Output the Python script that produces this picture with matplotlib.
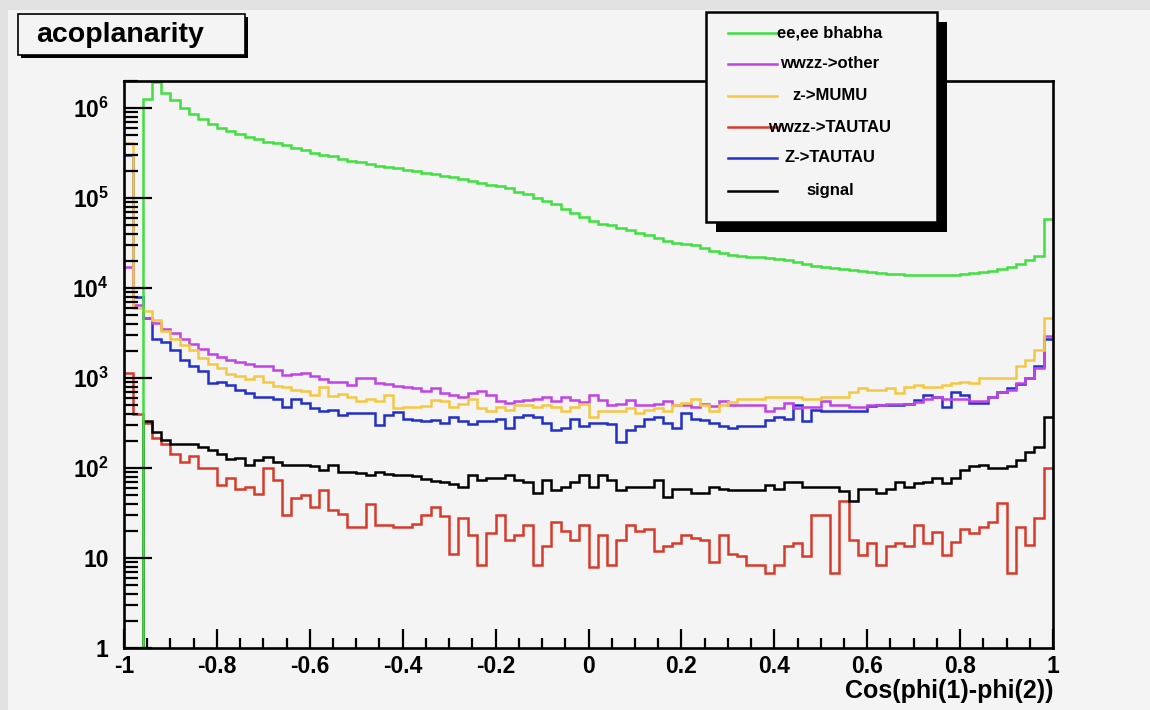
import numpy as np
import matplotlib
matplotlib.use('Agg')
import matplotlib.pyplot as plt
from matplotlib.patches import Rectangle
from matplotlib.lines import Line2D
from matplotlib.ticker import MultipleLocator, LogLocator, NullFormatter

plt.rcParams['font.family'] = ['Liberation Sans', 'DejaVu Sans']
plt.rcParams['font.weight'] = 'bold'
plt.rcParams['mathtext.fontset'] = 'custom'
plt.rcParams['mathtext.bf'] = 'Liberation Sans:bold'
plt.rcParams['mathtext.rm'] = 'Liberation Sans:bold'
plt.rcParams['mathtext.default'] = 'bf'

# 100 bins between -1 and 1
bin_edges = np.linspace(-1, 1, 101)

bhabha = [0, 0, 1.26e6, 1.95e6, 1.48e6, 1.23e6, 1.0e6, 8.7e5, 7.6e5, 6.6e5,
          6.0e5, 5.6e5, 5.1e5, 4.8e5, 4.5e5, 4.2e5, 4.1e5, 3.9e5, 3.6e5, 3.4e5,
          3.2e5, 3.0e5, 2.9e5, 2.75e5, 2.6e5, 2.5e5, 2.4e5, 2.3e5, 2.2e5, 2.15e5,
          2.05e5, 2.0e5, 1.9e5, 1.86e5, 1.78e5, 1.7e5, 1.62e5, 1.55e5, 1.48e5, 1.41e5,
          1.35e5, 1.29e5, 1.17e5, 1.1e5, 1.0e5, 9.3e4, 8.5e4, 7.6e4, 6.8e4, 6.2e4,
          5.6e4, 5.2e4, 5.0e4, 4.7e4, 4.4e4, 4.1e4, 3.9e4, 3.6e4, 3.3e4, 3.2e4,
          3.1e4, 3.0e4, 2.8e4, 2.6e4, 2.45e4, 2.35e4, 2.3e4, 2.24e4, 2.2e4, 2.14e4,
          2.1e4, 2.04e4, 1.95e4, 1.86e4, 1.78e4, 1.7e4, 1.66e4, 1.62e4, 1.58e4, 1.55e4,
          1.51e4, 1.48e4, 1.45e4, 1.45e4, 1.41e4, 1.38e4, 1.38e4, 1.38e4, 1.38e4, 1.41e4,
          1.45e4, 1.48e4, 1.51e4, 1.55e4, 1.62e4, 1.7e4, 1.86e4, 2.04e4, 2.3e4, 5.9e4]

wwzz_other = [1.7e4, 6500, 4600, 4100, 3500, 3200, 2700, 2400, 2100, 1860,
              1700, 1580, 1510, 1450, 1350, 1350, 1230, 1070, 1120, 1150,
              1050, 980, 910, 910, 830, 1000, 1000, 870, 850, 810,
              790, 775, 725, 770, 680, 650, 620, 680, 725, 650,
              560, 525, 560, 570, 580, 620, 550, 610, 570, 535,
              650, 570, 500, 515, 570, 500, 500, 515, 560, 500,
              500, 480, 515, 490, 550, 500, 500, 500, 500, 425,
              460, 525, 460, 480, 480, 550, 500, 500, 480, 480,
              500, 500, 515, 515, 515, 535, 590, 615, 590, 590,
              590, 550, 550, 615, 700, 740, 870, 1000, 1290, 2900]

z_mumu = [4.1e5, 6000, 5500, 4400, 3300, 2750, 2350, 2050, 1660, 1450,
          1290, 1120, 1050, 980, 1050, 910, 810, 790, 740, 710,
          650, 790, 630, 660, 615, 560, 590, 550, 650, 460,
          480, 480, 490, 575, 550, 480, 515, 590, 460, 425,
          480, 440, 500, 500, 480, 500, 480, 425, 480, 515,
          370, 425, 425, 425, 460, 405, 440, 460, 425, 500,
          525, 590, 500, 425, 500, 535, 590, 590, 590, 615,
          615, 615, 610, 590, 590, 615, 615, 615, 700, 770,
          740, 740, 770, 675, 800, 830, 800, 800, 830, 870,
          905, 870, 1000, 1000, 1000, 1000, 1350, 1580, 2050, 4600]

wwzz_tautau = [1150, 400, 316, 214, 186, 145, 118, 135, 100, 100,
               65, 77, 59, 61, 52, 100, 74, 30, 46, 50,
               37, 57, 34, 31, 22, 22, 40, 23, 23, 22,
               22, 24, 30, 37, 29, 11, 28, 18, 8.3, 19,
               30, 16, 18, 23, 8.3, 13.5, 25, 20, 16, 23,
               8, 18, 8.3, 16, 23, 20, 21, 12, 13.5, 14.5,
               18, 16.6, 16, 9.1, 18, 11.2, 10.5, 8.3, 8.3, 6.8,
               8.3, 13.5, 14.5, 10.5, 30, 30, 6.8, 43, 16, 10.8,
               14.5, 8.3, 13.5, 14.5, 13.5, 23, 14.5, 19.5, 10.8, 15,
               21, 19, 22, 25, 41, 6.8, 22, 14, 28, 100]

z_tautau = [3.0e5, 8000, 4600, 2750, 2500, 2050, 1580, 1350, 1200, 890,
            910, 830, 740, 675, 615, 615, 590, 480, 590, 525,
            460, 425, 440, 390, 410, 410, 410, 300, 390, 415,
            355, 340, 330, 340, 315, 370, 330, 305, 330, 330,
            350, 275, 370, 385, 365, 315, 265, 275, 350, 290,
            315, 315, 310, 195, 265, 290, 355, 370, 315, 275,
            410, 355, 340, 315, 290, 275, 290, 290, 290, 340,
            370, 355, 500, 330, 440, 425, 425, 425, 425, 425,
            490, 500, 500, 500, 515, 575, 650, 610, 480, 700,
            650, 525, 525, 610, 700, 770, 850, 1000, 1350, 2750]

signal = [0, 0, 330, 253, 204, 187, 187, 185, 173, 159,
          145, 125, 128, 108, 122, 134, 118, 108, 108, 108,
          105, 95, 108, 91, 91, 89, 84, 91, 86, 84,
          84, 81, 75, 72, 70, 67, 62, 83, 74, 77,
          77, 83, 74, 70, 53, 74, 57, 62, 70, 83,
          62, 83, 74, 57, 62, 62, 62, 74, 48, 58,
          58, 53, 53, 62, 59, 57, 57, 57, 57, 65,
          59, 70, 70, 62, 62, 62, 62, 55, 43, 59,
          59, 53, 59, 70, 62, 68, 70, 77, 68, 77,
          95, 104, 108, 99, 99, 104, 122, 150, 173, 370]

labels = ['ee,ee bhabha', 'wwzz->other', 'z->MUMU', 'wwzz->TAUTAU', 'Z->TAUTAU', 'signal']
colors = ['#3fe03f', '#c043e6', '#f5c842', '#d83a2a', '#2030c8', '#000000']

x_ticks = [-1, -0.8, -0.6, -0.4, -0.2, 0, 0.2, 0.4, 0.6, 0.8, 1]
x_tick_labels = ['-1', '-0.8', '-0.6', '-0.4', '-0.2', '0', '0.2', '0.4', '0.6', '0.8', '1']
y_ticks = [1, 10, 1e2, 1e3, 1e4, 1e5, 1e6]
y_tick_labels = ['1', '10', r'$10^{2}$', r'$10^{3}$', r'$10^{4}$', r'$10^{5}$', r'$10^{6}$']

W, H = 1150, 710
bg = '#f4f4f4'


def fx(px):
    return px / W


def fy(py):
    return 1 - py / H


fig = plt.figure(figsize=(11.5, 7.1), dpi=100, facecolor=bg)
fig.add_artist(Rectangle((0, 0), fx(8), 1, transform=fig.transFigure,
                         facecolor='#e2e2e2', edgecolor='none', zorder=0))
fig.add_artist(Rectangle((0, fy(10)), 1, 10 / H, transform=fig.transFigure,
                         facecolor='#e2e2e2', edgecolor='none', zorder=0))

ax = fig.add_axes([fx(124), fy(648), 929 / W, 567 / H])
ax.set_facecolor(bg)

all_series = [bhabha, wwzz_other, z_mumu, wwzz_tautau, z_tautau, signal]
# drawing order: blue first, bhabha last so it sits on top at the left edge
order = [4, 1, 2, 3, 5, 0]
for k in order:
    ax.stairs(all_series[k], bin_edges, baseline=None, edgecolor=colors[k], lw=1.8)

ax.set_yscale('log')
ax.set_xlim(-1, 1)
ax.set_ylim(1, 2.0e6)

ax.set_xticks(x_ticks)
ax.set_xticklabels(x_tick_labels)
ax.xaxis.set_minor_locator(MultipleLocator(0.05))
ax.set_yticks(y_ticks)
ax.set_yticklabels(y_tick_labels)
ax.yaxis.set_minor_locator(LogLocator(base=10, subs=range(2, 10), numticks=20))
ax.yaxis.set_minor_formatter(NullFormatter())

ax.tick_params(which='both', direction='in', top=False, right=False, width=1.6)
ax.tick_params(axis='x', which='major', length=14, pad=5, labelsize=16.5)
ax.tick_params(axis='x', which='minor', length=7)
ax.tick_params(axis='y', which='major', length=20, pad=11, labelsize=16.5)
ax.tick_params(axis='y', which='minor', length=10)
for s in ax.spines.values():
    s.set_linewidth(1.9)

ax.set_xlabel('Cos(phi(1)-phi(2))', loc='right', fontsize=18, fontweight='bold', labelpad=1)

# title box with shadow
fig.add_artist(Rectangle((fx(21), fy(58)), 227 / W, 41 / H, transform=fig.transFigure,
                         facecolor='black', edgecolor='none', zorder=2))
fig.add_artist(Rectangle((fx(18), fy(55)), 227 / W, 41 / H, transform=fig.transFigure,
                         facecolor=bg, edgecolor='black', lw=1.2, zorder=3))
fig.text(fx(36), fy(35), 'acoplanarity', fontsize=20.5, fontweight='bold',
         ha='left', va='center', zorder=4)

# legend box with shadow
fig.add_artist(Rectangle((fx(716), fy(232)), 231 / W, 210 / H, transform=fig.transFigure,
                         facecolor='black', edgecolor='none', zorder=2))
fig.add_artist(Rectangle((fx(706), fy(222)), 231 / W, 210 / H, transform=fig.transFigure,
                         facecolor=bg, edgecolor='black', lw=1.8, zorder=3))
row_y = [33, 64, 96, 127, 158, 191]
for lab, col, ry in zip(labels, colors, row_y):
    fig.add_artist(Line2D([fx(728), fx(777)], [fy(ry), fy(ry)], transform=fig.transFigure,
                          color=col, lw=1.8, zorder=4))
    fig.text(fx(830), fy(ry), lab, fontsize=12, fontweight='bold',
             ha='center', va='center', zorder=5)

fig.savefig('out.png', dpi=100, facecolor=bg)
